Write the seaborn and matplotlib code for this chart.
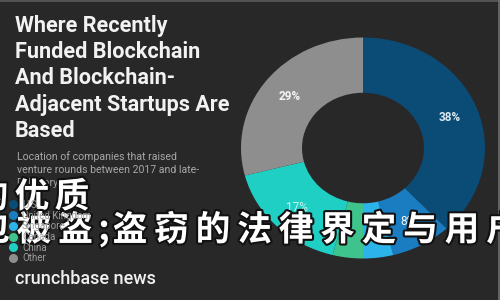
import numpy as np
import matplotlib
matplotlib.use("Agg")
import matplotlib.pyplot as plt
import matplotlib.patheffects as pe
from matplotlib.lines import Line2D
import seaborn as sns

# ---- data ----
countries = ["U.S.", "United Kingdom", "Singapore", "Canada", "China", "Other"]
shares = [38, 8, 4, 4, 17, 29]
colors = ["#0b4c76", "#1a7cc1", "#2cb3ea", "#3fc38d", "#1fcfc4", "#8e8e8e"]
title_lines = ["Where Recently", "Funded Blockchain", "And Blockchain-",
               "Adjacent Startups Are", "Based"]
subtitle_lines = ["Location of companies that raised",
                  "venture rounds between 2017 and late-",
                  "February 2018"]
brand = "crunchbase news"
overlay_line1 = "的优质"
overlay_line2 = "包被盗;盗窃的法律界定与用户"

BG = "#282828"
sns.set_theme(style="dark", rc={"figure.facecolor": BG, "axes.facecolor": BG})
plt.rcParams["font.family"] = ["Roboto", "DejaVu Sans"]

W, H = 500, 300
fig = plt.figure(figsize=(5, 3), dpi=100)
fig.patch.set_facecolor(BG)

def fx(px):
    return px / W

def fy(py):
    return 1 - py / H

# donut axes (slightly stretched horizontally like the reference)
cx, cy, rx, ry = 363, 148, 122, 110.5
ax = fig.add_axes([fx(cx - rx), fy(cy + ry), 2 * rx / W, 2 * ry / H])
ax.set_facecolor(BG)
pal = sns.color_palette(colors)
wedges, texts, autotexts = ax.pie(
    shares, colors=pal, startangle=90, counterclock=False, radius=1,
    wedgeprops=dict(width=0.5, linewidth=0, clip_on=False),
    autopct=lambda p: f"{p:.0f}%" if p >= 5 else "", pctdistance=0.76,
    textprops=dict(fontsize=8.5, color="white"))
ax.set_aspect("auto")
ax.set_xlim(-1, 1)
ax.set_ylim(-1, 1)
ax.axis("off")
txt_colors = ["#dbe7ef", "#f2f2f2", "#ffffff", "#ffffff", "#c9f3ef", "#f4f4f4"]
for t, s, c in zip(autotexts, shares, txt_colors):
    t.set_color(c)
    t.set_fontweight("bold" if s >= 20 else "normal")

# title
for i, line in enumerate(title_lines):
    fig.text(fx(15), fy(32 + 26.2 * i), line, fontsize=15.6, fontweight="bold",
             color="#f2f2f2", va="baseline", ha="left")

# subtitle
for i, line in enumerate(subtitle_lines):
    fig.text(fx(17), fy(160 + 13 * i), line, fontsize=7.6, color="#a8a8a8",
             va="baseline", ha="left")

# legend
handles = [Line2D([0], [0], marker="o", linestyle="", markersize=6.5,
                  markerfacecolor=c, markeredgewidth=0) for c in pal]
leg = fig.legend(handles, countries, loc="upper left",
                 bbox_to_anchor=(fx(3), fy(195)), frameon=False,
                 fontsize=7, labelcolor="#9c9c9c", handlelength=1.0,
                 handletextpad=0.45, labelspacing=0.07, borderpad=0)

# brand
fig.text(fx(15), fy(284), brand, fontsize=13, color="#f0f0f0",
         va="baseline", ha="left", fontweight="medium")

# overlay Chinese text (white with dark outline)
stroke = [pe.withStroke(linewidth=3, foreground="#111111")]
cjk = ["Noto Sans CJK SC", "DejaVu Sans"]
x1 = [-9, 32, 72]
for ch, x in zip(overlay_line1, x1):
    fig.text(fx(x), fy(197), ch, fontsize=25, color="white", family=cjk,
             fontweight="heavy", ha="center", va="center", path_effects=stroke)
x2 = [-7.5, 34, 75.5, 104, 130, 171.5, 213, 254.5, 296, 337.5, 379, 420.5,
      462, 503.5]
for ch, x in zip(overlay_line2, x2):
    fig.text(fx(x), fy(230), ch, fontsize=25, color="white", family=cjk,
             fontweight="heavy", ha="center", va="center", path_effects=stroke)

# thin lighter frame lines (top and right)
fig.add_artist(Line2D([0, 1], [fy(0.5), fy(0.5)], transform=fig.transFigure,
                      color="#5c5c5c", linewidth=1.2))
fig.add_artist(Line2D([fx(498.5), fx(498.5)], [0, 1], transform=fig.transFigure,
                      color="#6e6e6e", linewidth=1.2))

fig.savefig("out.png", dpi=100, facecolor=BG)
